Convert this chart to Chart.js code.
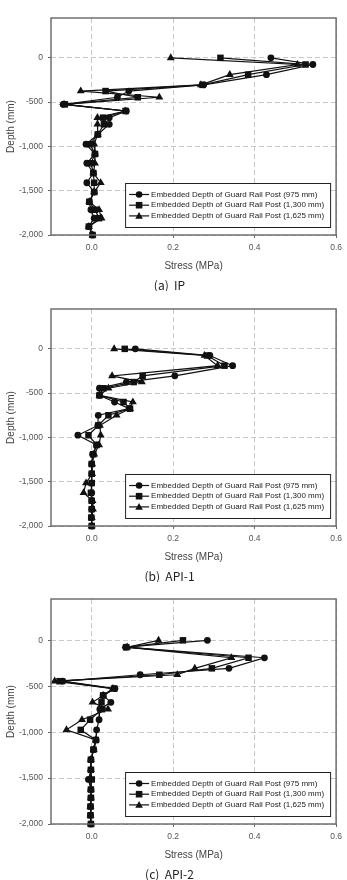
<!DOCTYPE html>
<html>
<head>
<meta charset="utf-8">
<style>
    body {
        margin: 0;
        background: #fff;
    }
    canvas {
        display: block;
    }
</style>
</head>
<body>
    <canvas id="chart-ip" width="347" height="291"></canvas>
    <canvas id="chart-api1" width="347" height="291"></canvas>
    <canvas id="chart-api2" width="347" height="298"></canvas>

<script src="https://cdn.jsdelivr.net/npm/chart.js@4.4.0/dist/chart.umd.min.js"></script>
<script>
    // Gauge depths (mm), shared by every series.
    const depth = [0, -75, -190, -305, -375, -445, -525, -600, -675, -750, -865,
        -975, -1085, -1190, -1300, -1410, -1515, -1625, -1715, -1810, -1905, -2000];

    const series_labels = [
        'Embedded Depth of Guard Rail Post (975 mm)',
        'Embedded Depth of Guard Rail Post (1,300 mm)',
        'Embedded Depth of Guard Rail Post (1,625 mm)'
    ];
    const point_styles = ['circle', 'rect', 'triangle'];

    const x_ticks = [0, 0.2, 0.4, 0.6];
    const y_ticks = [-2000, -1500, -1000, -500, 0];

    // (a) IP - stress (MPa)
    const ip_975 = [0.440, 0.543, 0.429, 0.275, 0.091, 0.063, -0.070, 0.085, 0.043, 0.043, 0.015,
        -0.014, 0.008, -0.012, 0.004, -0.012, 0.006, -0.006, -0.002, 0.006, -0.007, 0.002];
    const ip_1300 = [0.316, 0.525, 0.384, 0.272, 0.034, 0.113, -0.066, 0.083, 0.028, 0.030, 0.015,
        -0.004, 0.008, -0.002, 0.004, 0.006, 0.006, -0.006, 0.008, 0.018, -0.007, 0.002];
    const ip_1625 = [0.194, 0.505, 0.339, 0.268, -0.027, 0.166, -0.068, 0.082, 0.014, 0.014, 0.015,
        0.006, 0.008, 0.008, 0.004, 0.022, 0.006, -0.006, 0.018, 0.024, -0.007, 0.002];

    // (b) API-1
    const api1_975 = [0.107, 0.290, 0.346, 0.204, 0.085, 0.019, 0.019, 0.056, 0.092, 0.016, 0.015,
        -0.034, 0.012, 0.002, 0.000, 0.000, 0.000, 0.000, 0.000, 0.000, -0.001, 0.000];
    const api1_1300 = [0.081, 0.283, 0.326, 0.125, 0.103, 0.029, 0.019, 0.078, 0.094, 0.041, 0.016,
        -0.008, 0.012, 0.004, 0.000, 0.000, 0.000, -0.002, 0.000, 0.000, -0.001, 0.000];
    const api1_1625 = [0.055, 0.277, 0.309, 0.050, 0.123, 0.041, 0.019, 0.101, 0.094, 0.061, 0.020,
        0.022, 0.018, 0.006, 0.001, 0.001, -0.014, -0.020, 0.002, 0.003, 0.000, 0.000];

    // (c) API-2
    const api2_975 = [0.284, 0.083, 0.424, 0.337, 0.119, -0.071, 0.057, 0.028, 0.047, 0.020, 0.018,
        0.012, 0.011, 0.005, -0.002, -0.002, -0.008, -0.002, -0.002, -0.003, -0.003, -0.002];
    const api2_1300 = [0.224, 0.085, 0.385, 0.295, 0.166, -0.079, 0.055, 0.028, 0.024, 0.025, -0.004,
        -0.027, 0.010, 0.004, -0.002, -0.002, 0.000, -0.002, -0.002, -0.003, -0.003, -0.002];
    const api2_1625 = [0.164, 0.087, 0.343, 0.253, 0.210, -0.091, 0.052, 0.028, 0.002, 0.040, -0.024,
        -0.062, 0.010, 0.005, -0.002, -0.002, -0.003, -0.002, -0.002, -0.003, -0.003, -0.002];

    const font_family = '"Liberation Sans", Arial, sans-serif';

    const drawMarker = (ctx, style, x, y) => {
        ctx.beginPath();
        if (style === 'circle') {
            ctx.arc(x, y, 3.3, 0, Math.PI * 2);
        } else if (style === 'rect') {
            ctx.rect(x - 3.3, y - 3.3, 6.6, 6.6);
        } else {
            ctx.moveTo(x, y - 3.8);
            ctx.lineTo(x + 3.8, y + 2.8);
            ctx.lineTo(x - 3.8, y + 2.8);
            ctx.closePath();
        }
        ctx.fill();
    };

    // Plot frame and the boxed legend in the lower right of the plot.
    const framePlugin = {
        id: 'frame',
        afterDatasetsDraw(chart) {
            const ctx = chart.ctx;
            const a = chart.chartArea;
            ctx.save();
            ctx.strokeStyle = '#666';
            ctx.lineWidth = 1.4;
            ctx.strokeRect(a.left, a.top, a.right - a.left, a.bottom - a.top);

            const w = 205, h = 44;
            const bx = a.right - 6 - w;
            const by = a.bottom - 8 - h;
            ctx.fillStyle = '#fff';
            ctx.fillRect(bx, by, w, h);
            ctx.strokeStyle = '#222';
            ctx.lineWidth = 1;
            ctx.strokeRect(bx + 0.5, by + 0.5, w, h);

            ctx.font = '8px ' + font_family;
            ctx.textBaseline = 'middle';
            chart.data.datasets.forEach((ds, i) => {
                const ry = by + 11.5 + i * 10.7;
                ctx.strokeStyle = '#111';
                ctx.lineWidth = 1.2;
                ctx.beginPath();
                ctx.moveTo(bx + 4, ry);
                ctx.lineTo(bx + 24, ry);
                ctx.stroke();
                ctx.fillStyle = '#111';
                drawMarker(ctx, ds.pointStyle, bx + 14, ry);
                ctx.fillStyle = '#222';
                ctx.fillText(ds.label, bx + 26, ry);
            });
            ctx.restore();
        }
    };

    const makeChart = (id, caption, values, pad_top) => {
        const datasets = values.map((vals, i) => ({
            label: series_labels[i],
            data: depth.map((d, j) => ({ x: vals[j], y: d })),
            showLine: true,
            borderColor: '#111',
            borderWidth: 1.2,
            backgroundColor: '#111',
            pointStyle: point_styles[i],
            pointRadius: i === 0 ? 3.4 : 4.6,
            pointBorderWidth: 0,
            clip: false
        }));

        return new Chart(document.getElementById(id), {
            type: 'scatter',
            data: { datasets: datasets },
            options: {
                responsive: false,
                animation: false,
                layout: { padding: { top: pad_top, right: 8, left: 0, bottom: 0 } },
                plugins: {
                    legend: { display: false },
                    tooltip: { enabled: false },
                    title: {
                        display: true,
                        position: 'bottom',
                        text: caption,
                        color: '#222',
                        font: { family: '"Noto Sans CJK KR", "Noto Sans", sans-serif', size: 12, weight: 'normal', lineHeight: 1 },
                        padding: 0
                    }
                },
                scales: {
                    x: {
                        type: 'linear',
                        min: -0.1,
                        max: 0.6,
                        afterBuildTicks: (scale) => { scale.ticks = x_ticks.map(v => ({ value: v })); },
                        afterFit: (scale) => { scale.height = 44; },
                        ticks: {
                            color: '#555',
                            font: { family: font_family, size: 8.5 },
                            padding: 5,
                            maxRotation: 0,
                            callback: (v) => v.toFixed(1)
                        },
                        grid: { color: '#c8c8c8', lineWidth: 1, tickLength: 3, tickColor: '#666' },
                        border: { display: false, dash: [5, 3] },
                        title: {
                            display: true,
                            text: 'Stress (MPa)',
                            color: '#444',
                            font: { family: font_family, size: 10 },
                            padding: { top: 0, bottom: 7 }
                        }
                    },
                    y: {
                        type: 'linear',
                        min: -2000,
                        max: 450,
                        afterBuildTicks: (scale) => { scale.ticks = y_ticks.map(v => ({ value: v })); },
                        afterFit: (scale) => { scale.width = 51; },
                        ticks: {
                            color: '#555',
                            font: { family: font_family, size: 8.5 },
                            padding: 5,
                            callback: (v) => v.toLocaleString('en-US')
                        },
                        grid: { color: '#c8c8c8', lineWidth: 1, tickLength: 3, tickColor: '#666' },
                        border: { display: false, dash: [5, 3] },
                        title: {
                            display: true,
                            text: 'Depth (mm)',
                            color: '#444',
                            font: { family: font_family, size: 10 },
                            padding: { top: 5, bottom: 0 }
                        }
                    }
                }
            },
            plugins: [framePlugin]
        });
    };

    makeChart('chart-ip', '(a)  IP', [ip_975, ip_1300, ip_1625], 18);
    makeChart('chart-api1', '(b)  API-1', [api1_975, api1_1300, api1_1625], 18);
    makeChart('chart-api2', '(c)  API-2', [api2_975, api2_1300, api2_1625], 17);
</script>
</body>
</html>
